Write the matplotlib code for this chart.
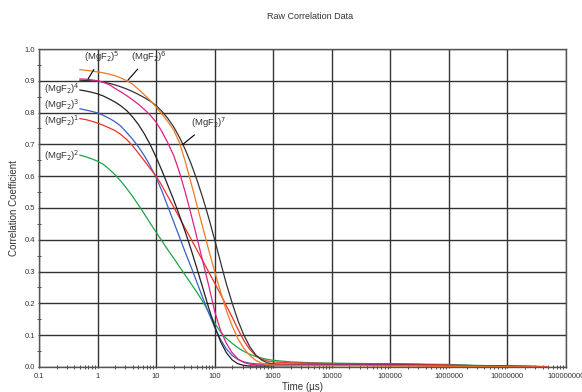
import numpy as np
import matplotlib
matplotlib.use("Agg")
import matplotlib.pyplot as plt
from matplotlib.ticker import FixedLocator, LogLocator, FuncFormatter, MultipleLocator

plt.rcParams['font.family'] = ['Liberation Sans', 'DejaVu Sans']

## Data ##
time_us = [0.5, 0.63, 0.79, 1, 1.26, 1.58, 2, 2.51, 3.16, 3.98, 5.01, 6.31, 7.94,
           10, 12.6, 15.8, 20, 25.1, 31.6, 39.8, 50.1, 63.1, 79.4,
           100, 126, 158, 200, 251, 316, 398, 501, 631, 794, 1000,
           2000, 5000, 1e4, 3e4, 1e5, 3e5, 1e6, 3e6, 1e7, 5e7]

mgf2_1 = [0.781, 0.778, 0.773, 0.767, 0.760, 0.752, 0.743, 0.731, 0.715, 0.695, 0.672, 0.648, 0.624,
          0.600, 0.570, 0.537, 0.503, 0.469, 0.435, 0.401, 0.367, 0.333, 0.298,
          0.264, 0.229, 0.193, 0.156, 0.118, 0.083, 0.055, 0.036, 0.025, 0.019, 0.016,
          0.013, 0.012, 0.011, 0.010, 0.009, 0.008, 0.006, 0.004, 0.003, 0.001]
mgf2_2 = [0.666, 0.661, 0.655, 0.647, 0.637, 0.622, 0.604, 0.584, 0.561, 0.536, 0.509, 0.481, 0.452,
          0.424, 0.396, 0.369, 0.342, 0.315, 0.288, 0.261, 0.234, 0.205, 0.172,
          0.138, 0.110, 0.090, 0.074, 0.060, 0.049, 0.040, 0.033, 0.028, 0.024, 0.021,
          0.016, 0.013, 0.012, 0.011, 0.010, 0.009, 0.008, 0.005, 0.003, 0.001]
mgf2_3 = [0.812, 0.808, 0.804, 0.799, 0.791, 0.782, 0.771, 0.757, 0.737, 0.716, 0.692, 0.664, 0.632,
          0.596, 0.553, 0.505, 0.456, 0.408, 0.360, 0.313, 0.265, 0.216, 0.169,
          0.125, 0.087, 0.057, 0.036, 0.023, 0.016, 0.012, 0.010, 0.009, 0.009, 0.009,
          0.009, 0.010, 0.010, 0.010, 0.010, 0.008, 0.006, 0.004, 0.002, 0.001]
mgf2_4 = [0.871, 0.868, 0.864, 0.859, 0.852, 0.843, 0.833, 0.821, 0.806, 0.786, 0.762, 0.733, 0.699,
          0.660, 0.617, 0.572, 0.525, 0.476, 0.424, 0.368, 0.308, 0.247, 0.185,
          0.128, 0.080, 0.045, 0.022, 0.010, 0.005, 0.003, 0.003, 0.003, 0.003, 0.004,
          0.004, 0.005, 0.006, 0.006, 0.006, 0.005, 0.004, 0.003, 0.002, 0.001]
mgf2_5 = [0.906, 0.905, 0.903, 0.900, 0.895, 0.888, 0.876, 0.865, 0.853, 0.840, 0.826, 0.810, 0.792,
          0.770, 0.740, 0.705, 0.665, 0.612, 0.548, 0.478, 0.405, 0.330, 0.255,
          0.175, 0.115, 0.075, 0.044, 0.025, 0.014, 0.009, 0.007, 0.006, 0.006, 0.006,
          0.006, 0.006, 0.006, 0.006, 0.006, 0.005, 0.004, 0.003, 0.002, 0.001]
mgf2_6 = [0.935, 0.933, 0.931, 0.928, 0.925, 0.921, 0.916, 0.909, 0.900, 0.889, 0.873, 0.856, 0.838,
          0.818, 0.795, 0.772, 0.745, 0.705, 0.645, 0.577, 0.507, 0.437, 0.367,
          0.300, 0.237, 0.178, 0.128, 0.088, 0.058, 0.036, 0.021, 0.012, 0.008, 0.006,
          0.005, 0.004, 0.004, 0.004, 0.003, 0.003, 0.002, 0.002, 0.001, 0.000]
mgf2_7 = [0.902, 0.901, 0.900, 0.899, 0.896, 0.892, 0.887, 0.881, 0.874, 0.866, 0.857, 0.847, 0.836,
          0.822, 0.804, 0.782, 0.755, 0.722, 0.683, 0.638, 0.587, 0.530, 0.468,
          0.400, 0.330, 0.262, 0.200, 0.145, 0.100, 0.064, 0.038, 0.022, 0.013, 0.009,
          0.007, 0.006, 0.006, 0.006, 0.005, 0.005, 0.004, 0.003, 0.002, 0.001]

series = [mgf2_2, mgf2_3, mgf2_1, mgf2_4, mgf2_7, mgf2_5, mgf2_6]
colors = ['#1aa64a', '#3a5fc8', '#f0302a', '#222222', '#333333', '#e0208a', '#f47a20']

## Figure ##
fig = plt.figure(figsize=(5.82, 3.92), dpi=100)
ax = fig.add_axes([0.067, 0.0638, 0.9055, 0.8112])

for vals, c in zip(series, colors):
    ax.plot(time_us, vals, color=c, lw=0.9)

ax.set_xscale('log')
ax.set_xlim(0.1, 1e8)
ax.set_ylim(0, 1.0)

ax.xaxis.set_major_locator(FixedLocator([10.0 ** k for k in range(-1, 9)]))
ax.xaxis.set_minor_locator(LogLocator(base=10, subs=np.arange(2, 10), numticks=100))
ax.xaxis.set_major_formatter(FuncFormatter(lambda v, p: '0.1' if v < 1 else '%d' % round(v)))
ax.xaxis.set_minor_formatter(FuncFormatter(lambda v, p: ''))
ax.yaxis.set_major_locator(MultipleLocator(0.1))
ax.yaxis.set_minor_locator(MultipleLocator(0.05))
ax.yaxis.set_major_formatter(FuncFormatter(lambda v, p: '%.1f' % v))

ax.grid(True, which='major', color='#333333', lw=1.0)
ax.tick_params(which='major', labelsize=5.5, colors='#333333', length=2, direction='inout', pad=2)
ax.tick_params(axis='x', which='major', pad=3.5)
ax.tick_params(which='minor', length=3, direction='inout', color='#333333')
for s in ax.spines.values():
    s.set_color('#555555')
    s.set_linewidth(1.0)

ax.set_xlabel('Time (µs)', fontsize=7, color='#333333', labelpad=1)
ax.set_ylabel('Correlation Coefficient', fontsize=7, color='#333333', labelpad=4)
fig.text(0.533, 0.957, 'Raw Correlation Data', fontsize=6.5, color='#333333', ha='center', va='center')

## Curve labels ##
lab_kw = dict(fontsize=6.8, color='#333333')
line_kw = dict(arrowstyle='-', color='black', lw=0.8, shrinkA=2, shrinkB=0)
ax.text(0.49, 0.664, r'(MgF$_2$)$^2$', ha='right', va='center', **lab_kw)
ax.text(0.49, 0.775, r'(MgF$_2$)$^1$', ha='right', va='center', **lab_kw)
ax.text(0.49, 0.825, r'(MgF$_2$)$^3$', ha='right', va='center', **lab_kw)
ax.text(0.49, 0.874, r'(MgF$_2$)$^4$', ha='right', va='center', **lab_kw)
ax.annotate(r'(MgF$_2$)$^5$', xy=(0.69, 0.906), xytext=(1.17, 0.975), ha='center', va='center',
            arrowprops=line_kw, **lab_kw)
ax.annotate(r'(MgF$_2$)$^6$', xy=(3.3, 0.902), xytext=(7.4, 0.975), ha='center', va='center',
            arrowprops=line_kw, **lab_kw)
ax.annotate(r'(MgF$_2$)$^7$', xy=(28.6, 0.70), xytext=(80, 0.767), ha='center', va='center',
            arrowprops=line_kw, **lab_kw)

fig.savefig('out.png', dpi=100)
